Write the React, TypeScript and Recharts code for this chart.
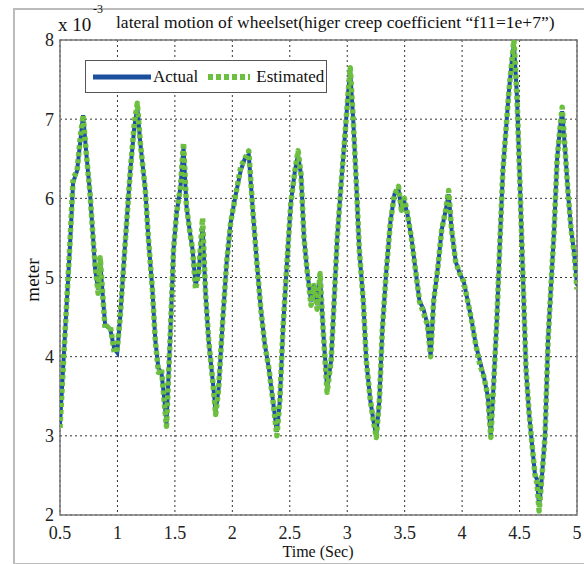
import React from "react";
import {
  CartesianGrid,
  Line,
  LineChart,
  ReferenceArea,
  XAxis,
  YAxis,
} from "recharts";

// time (s)
const times = [
  0.5, 0.544, 0.587, 0.614, 0.649, 0.675, 0.701, 0.727, 0.762, 0.788, 0.806,
  0.832, 0.85, 0.876, 0.893, 0.937, 0.972, 0.998, 1.024, 1.068, 1.112, 1.147,
  1.173, 1.199, 1.243, 1.269, 1.304, 1.33, 1.357, 1.383, 1.409, 1.427, 1.462,
  1.488, 1.514, 1.549, 1.575, 1.601, 1.628, 1.654, 1.68, 1.706, 1.741, 1.767,
  1.794, 1.829, 1.855, 1.881, 1.916, 1.951, 1.986, 2.03, 2.073, 2.108, 2.143,
  2.178, 2.213, 2.248, 2.283, 2.318, 2.353, 2.388, 2.414, 2.441, 2.476, 2.51,
  2.545, 2.572, 2.598, 2.624, 2.65, 2.685, 2.712, 2.738, 2.764, 2.79, 2.825,
  2.86, 2.886, 2.913, 2.948, 2.983, 3.009, 3.026, 3.052, 3.079, 3.105, 3.14,
  3.166, 3.201, 3.227, 3.253, 3.28, 3.306, 3.341, 3.376, 3.411, 3.446, 3.472,
  3.498, 3.524, 3.559, 3.594, 3.629, 3.664, 3.699, 3.726, 3.752, 3.787, 3.822,
  3.857, 3.883, 3.909, 3.944, 3.979, 4.014, 4.049, 4.084, 4.119, 4.154, 4.189,
  4.224, 4.25, 4.276, 4.302, 4.329, 4.355, 4.381, 4.407, 4.434, 4.451, 4.477,
  4.503, 4.53, 4.556, 4.582, 4.608, 4.635, 4.652, 4.67, 4.69, 4.722, 4.748,
  4.774, 4.801, 4.827, 4.853, 4.871, 4.897, 4.923, 4.949, 4.976, 5.0,
];

// lateral displacement, x 1e-3 m
const actual = [
  3.14, 4.3, 5.4, 6.2, 6.35, 6.7, 7.05, 6.6, 6.05, 5.5, 5.1,
  4.85, 5.2, 4.7, 4.4, 4.35, 4.1, 4.05, 4.5, 5.45, 6.35, 6.9,
  7.15, 6.7, 6.1, 5.5, 4.85, 4.2, 3.85, 3.8, 3.45, 3.15, 4.35,
  5.35, 5.8, 6.15, 6.65, 5.9, 5.6, 5.35, 4.9, 5.05, 5.65, 4.8,
  4.2, 3.7, 3.3, 3.6, 4.45, 5.2, 5.7, 6.05, 6.35, 6.5, 6.55,
  5.85, 5.2, 4.6, 4.15, 3.85, 3.45, 3.05, 3.45, 4.35, 5.2, 5.95,
  6.35, 6.55, 6.3, 5.5, 5.1, 4.7, 4.9, 4.65, 5.0, 4.35, 3.6,
  3.95, 4.7, 5.5, 6.2, 6.85, 7.35, 7.6, 7.0, 6.2, 5.35, 4.7,
  3.95, 3.45, 3.2, 3.0, 3.45, 4.35, 5.1, 5.7, 6.05, 6.12, 5.85,
  5.95, 5.8, 5.5, 5.1, 4.7, 4.6, 4.4, 4.0, 4.7, 5.1, 5.6,
  5.85, 6.05, 5.6, 5.2, 5.05, 4.95, 4.7, 4.45, 4.15, 3.95, 3.75,
  3.5, 3.0, 3.7, 4.45, 5.45, 6.35, 6.85, 7.35, 7.75, 7.95, 7.3,
  6.2, 5.0, 3.85, 3.3, 2.9, 2.5, 2.45, 2.1, 2.4, 3.0, 4.2,
  4.9, 5.6, 6.5, 6.9, 7.1, 6.6, 6.05, 5.6, 5.3, 4.9,
];

const estimated = [
  3.1, 4.3, 5.45, 6.25, 6.35, 6.75, 7.05, 6.6, 6.05, 5.5, 5.15,
  4.8, 5.25, 4.7, 4.35, 4.4, 4.05, 4.1, 4.5, 5.45, 6.35, 6.95,
  7.2, 6.7, 6.1, 5.5, 4.85, 4.2, 3.8, 3.85, 3.4, 3.12, 4.35,
  5.35, 5.8, 6.15, 6.7, 5.9, 5.6, 5.35, 4.85, 5.05, 5.75, 4.8,
  4.2, 3.7, 3.27, 3.6, 4.45, 5.2, 5.7, 6.05, 6.4, 6.5, 6.6,
  5.85, 5.2, 4.6, 4.15, 3.85, 3.45, 3.0, 3.45, 4.35, 5.2, 5.95,
  6.35, 6.6, 6.3, 5.5, 5.1, 4.65, 4.9, 4.6, 5.05, 4.35, 3.55,
  3.95, 4.7, 5.5, 6.2, 6.85, 7.35, 7.65, 7.0, 6.2, 5.35, 4.7,
  3.95, 3.45, 3.2, 2.98, 3.45, 4.35, 5.1, 5.7, 6.05, 6.15, 5.85,
  6.0, 5.8, 5.5, 5.1, 4.7, 4.55, 4.4, 4.0, 4.7, 5.1, 5.6,
  5.85, 6.1, 5.6, 5.2, 5.05, 4.95, 4.7, 4.45, 4.15, 3.9, 3.75,
  3.5, 2.98, 3.7, 4.45, 5.45, 6.35, 6.85, 7.35, 7.75, 8.0, 7.3,
  6.2, 5.0, 3.85, 3.3, 2.9, 2.5, 2.4, 2.05, 2.4, 3.0, 4.2,
  4.9, 5.6, 6.5, 6.9, 7.15, 6.6, 6.05, 5.6, 5.3, 4.85,
];

const xTicks = [0.5, 1, 1.5, 2, 2.5, 3, 3.5, 4, 4.5, 5];
const yTicks = [2, 3, 4, 5, 6, 7, 8];

const data = times.map((t, i) => ({
  t,
  actual: actual[i],
  estimated: estimated[i],
}));

const serif = "'Liberation Serif', 'Times New Roman', serif";
const BLUE = "#1d4f9f";
const GREEN = "#6cbf3f";

const LegendBox = () => (
  <div
    style={{
      position: "absolute",
      left: 85,
      top: 60,
      width: 240,
      height: 31,
      border: "1px solid #555",
      background: "#fff",
      display: "flex",
      alignItems: "center",
      fontFamily: serif,
      fontSize: 17,
      color: "#111",
    }}
  >
    <svg width={62} height={12} style={{ marginLeft: 5 }}>
      <line x1={2} y1={6} x2={60} y2={6} stroke={BLUE} strokeWidth={5} />
    </svg>
    <span style={{ marginRight: 8 }}>Actual</span>
    <svg width={46} height={12}>
      <line
        x1={2}
        y1={6}
        x2={44}
        y2={6}
        stroke={GREEN}
        strokeWidth={6}
        strokeDasharray="5 3"
      />
    </svg>
    <span style={{ marginLeft: 4 }}>Estimated</span>
  </div>
);

export default function App() {
  return (
    <div
      style={{
        position: "absolute",
        left: 0,
        top: 0,
        width: 584,
        height: 564,
        background: "#fff",
        fontFamily: serif,
      }}
    >
      <div
        style={{
          position: "absolute",
          left: 13,
          top: 8,
          width: 580,
          height: 553,
          borderLeft: "2px solid #bbb",
          borderTop: "2px solid #bbb",
          borderBottom: "2px solid #bbb",
        }}
      />
      <LineChart
        width={584}
        height={564}
        data={data}
        margin={{ top: 40, right: 7, bottom: 0, left: 0 }}
      >
        <CartesianGrid stroke="#333" strokeDasharray="2 3" strokeWidth={1} />
        <XAxis
          dataKey="t"
          type="number"
          domain={[0.5, 5]}
          ticks={xTicks}
          allowDataOverflow
          axisLine={false}
          tickLine={false}
          tickMargin={5}
          height={49}
          interval={0}
          tick={{ fontFamily: serif, fontSize: 18, fill: "#222" }}
        />
        <YAxis
          type="number"
          domain={[2, 8]}
          ticks={yTicks}
          allowDataOverflow
          axisLine={false}
          tickLine={false}
          tickMargin={0}
          width={60}
          interval={0}
          tick={{ fontFamily: serif, fontSize: 18, fill: "#222" }}
        />
        <Line
          type="linear"
          dataKey="actual"
          stroke={BLUE}
          strokeWidth={4}
          dot={false}
          isAnimationActive={false}
        />
        <Line
          type="linear"
          dataKey="estimated"
          stroke={GREEN}
          strokeWidth={5.5}
          strokeDasharray="4 3"
          strokeLinejoin="round"
          dot={false}
          isAnimationActive={false}
        />
        <ReferenceArea
          x1={0.5}
          x2={5}
          y1={2}
          y2={8}
          fill="none"
          stroke="#777"
          strokeWidth={1.5}
        />
      </LineChart>
      <LegendBox />
      <div
        style={{
          position: "absolute",
          left: 58,
          top: 15,
          fontFamily: serif,
          fontSize: 19,
          lineHeight: "20px",
          color: "#111",
          whiteSpace: "nowrap",
        }}
      >
        x 10
      </div>
      <div
        style={{
          position: "absolute",
          left: 93,
          top: 3,
          fontFamily: serif,
          fontSize: 12,
          lineHeight: "13px",
          color: "#111",
        }}
      >
        -3
      </div>
      <div
        style={{
          position: "absolute",
          left: 116,
          top: 12,
          fontFamily: serif,
          fontSize: 17.5,
          lineHeight: "20px",
          color: "#111",
          whiteSpace: "nowrap",
        }}
      >
        lateral motion of wheelset(higer creep coefficient “f11=1e+7”)
      </div>
      <div
        style={{
          position: "absolute",
          left: 33,
          top: 280,
          transform: "translate(-50%, -50%) rotate(-90deg)",
          fontFamily: serif,
          fontSize: 19,
          color: "#111",
        }}
      >
        meter
      </div>
      <div
        style={{
          position: "absolute",
          left: 318,
          top: 552,
          transform: "translate(-50%, -50%)",
          fontFamily: serif,
          fontSize: 16,
          color: "#111",
          whiteSpace: "nowrap",
        }}
      >
        Time (Sec)
      </div>
    </div>
  );
}
